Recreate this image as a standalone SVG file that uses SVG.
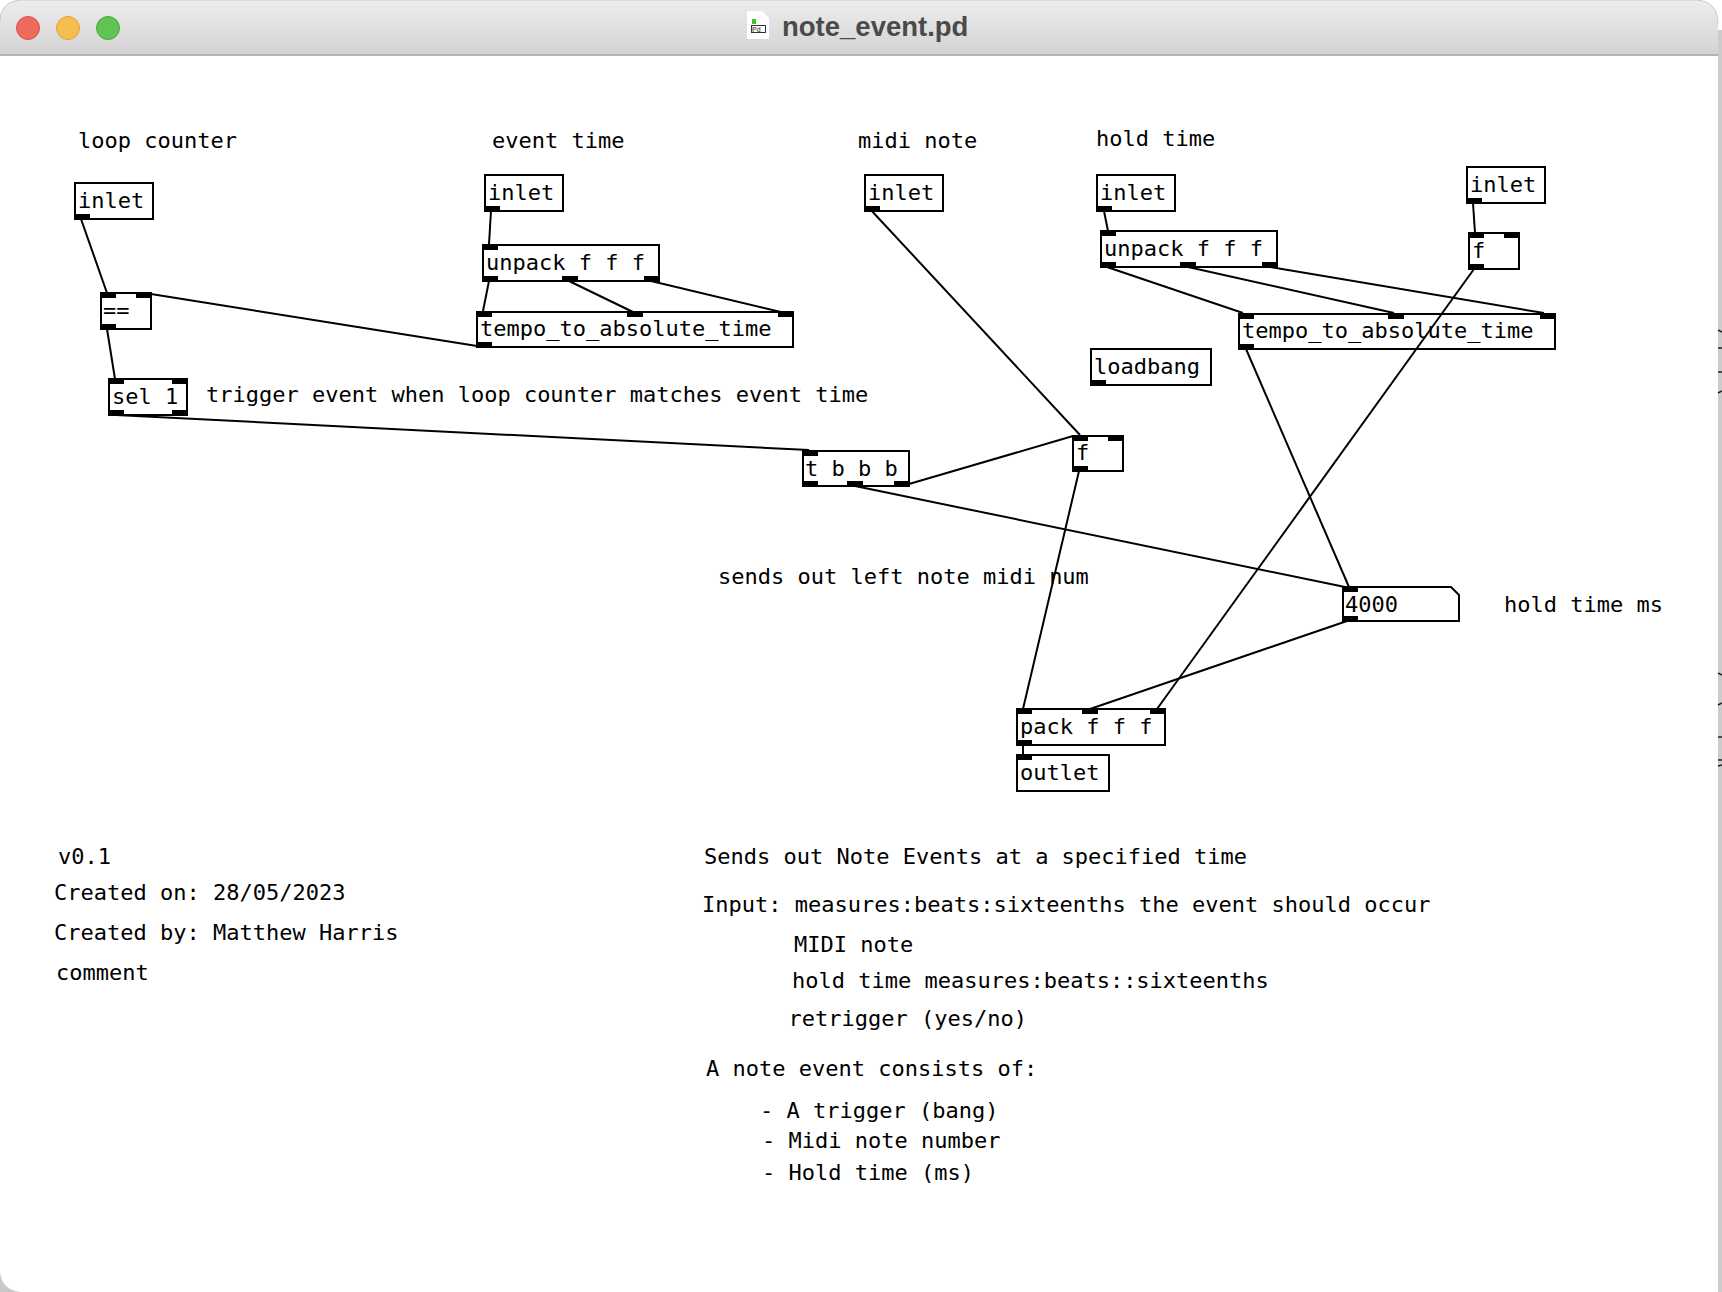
<svg xmlns="http://www.w3.org/2000/svg" width="1722" height="1292" viewBox="0 0 1722 1292">
<defs>
<linearGradient id="bar" x1="0" y1="0" x2="0" y2="1"><stop offset="0" stop-color="#ededed"/><stop offset="1" stop-color="#d3d3d3"/></linearGradient>
</defs>
<style>
text{font-family:"DejaVu Sans Mono","Liberation Mono",monospace;font-size:22px;fill:#000}
.box{fill:#fff;stroke:#000;stroke-width:2}
.p{fill:#000}
.w{stroke:#000;stroke-width:2;fill:none}
.title{font-family:"Liberation Sans",Arial,sans-serif;font-weight:bold;font-size:27.500px;fill:#4a4a4a}
.pd{font-family:"Liberation Sans",Arial,sans-serif;font-size:7px;fill:#222}
</style>
<rect width="1722" height="1292" fill="#fff"/>
<g id="window">
<rect x="1718" y="30" width="4" height="1262" fill="#cccccc"/>
<path d="M0 1292V1272Q2 1290 20 1292Z" fill="#c8c8c8"/>
<path d="M0 55V22Q0 1 22 0H1696Q1718 1 1718 24V55Z" fill="url(#bar)"/>
<path d="M0 22Q0 1 22 0H1696Q1718 1 1718 24" fill="none" stroke="#c9c9c9" stroke-width="1"/>
<rect x="0" y="54" width="1718" height="2" fill="#b4b4b4"/>
<circle cx="28" cy="28" r="11.500" fill="#ee6a5f" stroke="#d8534a"/>
<circle cx="68" cy="28" r="11.500" fill="#f6bd4f" stroke="#dfa23a"/>
<circle cx="108" cy="28" r="11.500" fill="#61c354" stroke="#4ba83f"/>
<path d="M747 11H762L769 18V39H747Z" fill="#fff"/>
<rect x="752" y="19" width="4" height="5" fill="#3fc02f"/>
<rect x="751.500" y="25.500" width="14" height="7" fill="none" stroke="#333"/>
<text class="pd" x="752" y="32">Pd</text>
<text class="title" x="782" y="36">note_event.pd</text>
<g stroke="#222" stroke-width="1.500" fill="none">
<path d="M1718 330L1722 332M1718 348H1722M1718 372H1722M1718 393L1722 391M1718 673L1722 675M1718 705L1722 703M1718 737H1722M1718 760H1722M1718 766L1722 765"/>
</g>
</g>
<g id="n-inlet1"><rect class="box" x="75" y="183" width="78" height="36"/><rect class="p" x="74" y="214" width="16" height="6"/><text x="78" y="208">inlet</text></g>
<g id="n-eq"><rect class="box" x="101" y="293" width="50" height="36"/><rect class="p" x="100" y="292" width="16" height="6"/><rect class="p" x="136" y="292" width="16" height="6"/><rect class="p" x="100" y="324" width="16" height="6"/><text x="103" y="318">==</text></g>
<g id="n-sel"><rect class="box" x="109" y="379" width="78" height="36"/><rect class="p" x="108" y="378" width="16" height="6"/><rect class="p" x="172" y="378" width="16" height="6"/><rect class="p" x="108" y="410" width="16" height="6"/><rect class="p" x="172" y="410" width="16" height="6"/><text x="112" y="403.500">sel 1</text></g>
<g id="n-inlet2"><rect class="box" x="485" y="175" width="78" height="36"/><rect class="p" x="484" y="206" width="16" height="6"/><text x="488" y="200">inlet</text></g>
<g id="n-unpack1"><rect class="box" x="483" y="245" width="176" height="36"/><rect class="p" x="482" y="244" width="16" height="6"/><rect class="p" x="482" y="276" width="16" height="6"/><rect class="p" x="562" y="276" width="16" height="6"/><rect class="p" x="644" y="276" width="16" height="6"/><text x="486" y="270">unpack f f f</text></g>
<g id="n-tempo1"><rect class="box" x="477" y="312" width="316" height="35"/><rect class="p" x="476" y="311" width="16" height="6"/><rect class="p" x="627" y="311" width="16" height="6"/><rect class="p" x="778" y="311" width="16" height="6"/><rect class="p" x="476" y="342" width="16" height="6"/><text x="480" y="336">tempo_to_absolute_time</text></g>
<g id="n-inlet3"><rect class="box" x="865" y="175" width="78" height="36"/><rect class="p" x="864" y="206" width="16" height="6"/><text x="868" y="200">inlet</text></g>
<g id="n-inlet4"><rect class="box" x="1097" y="175" width="78" height="36"/><rect class="p" x="1096" y="206" width="16" height="6"/><text x="1100" y="200">inlet</text></g>
<g id="n-unpack2"><rect class="box" x="1101" y="231" width="176" height="36"/><rect class="p" x="1100" y="230" width="16" height="6"/><rect class="p" x="1100" y="262" width="16" height="6"/><rect class="p" x="1180" y="262" width="16" height="6"/><rect class="p" x="1262" y="262" width="16" height="6"/><text x="1104" y="256">unpack f f f</text></g>
<g id="n-inlet5"><rect class="box" x="1467" y="167" width="78" height="36"/><rect class="p" x="1466" y="198" width="16" height="6"/><text x="1470" y="192">inlet</text></g>
<g id="n-f2"><rect class="box" x="1469" y="233" width="50" height="36"/><rect class="p" x="1468" y="232" width="16" height="6"/><rect class="p" x="1504" y="232" width="16" height="6"/><rect class="p" x="1468" y="264" width="16" height="6"/><text x="1472" y="258">f</text></g>
<g id="n-tempo2"><rect class="box" x="1239" y="314" width="316" height="35"/><rect class="p" x="1238" y="313" width="16" height="6"/><rect class="p" x="1388" y="313" width="16" height="6"/><rect class="p" x="1540" y="313" width="16" height="6"/><rect class="p" x="1238" y="344" width="16" height="6"/><text x="1242" y="338">tempo_to_absolute_time</text></g>
<g id="n-loadbang"><rect class="box" x="1091" y="349" width="120" height="36"/><rect class="p" x="1090" y="380" width="16" height="6"/><text x="1094" y="374">loadbang</text></g>
<g id="n-trigger"><rect class="box" x="803" y="451" width="106" height="35"/><rect class="p" x="802" y="450" width="16" height="6"/><rect class="p" x="802" y="481" width="16" height="6"/><rect class="p" x="847" y="481" width="16" height="6"/><rect class="p" x="894" y="481" width="16" height="6"/><text x="805" y="476">t b b b</text></g>
<g id="n-f1"><rect class="box" x="1073" y="436" width="50" height="35"/><rect class="p" x="1072" y="435" width="16" height="6"/><rect class="p" x="1108" y="435" width="16" height="6"/><rect class="p" x="1072" y="466" width="16" height="6"/><text x="1076" y="460">f</text></g>
<g id="n-num"><path class="box" d="M1343 587H1451L1459 595V621H1343Z"/><rect class="p" x="1342" y="586" width="16" height="6"/><rect class="p" x="1342" y="616" width="16" height="6"/><text x="1345" y="612">4000</text></g>
<g id="n-pack"><rect class="box" x="1017" y="709" width="148" height="36"/><rect class="p" x="1016" y="708" width="16" height="6"/><rect class="p" x="1082" y="708" width="16" height="6"/><rect class="p" x="1150" y="708" width="16" height="6"/><rect class="p" x="1016" y="740" width="16" height="6"/><text x="1020" y="734">pack f f f</text></g>
<g id="n-outlet"><rect class="box" x="1017" y="755" width="92" height="36"/><rect class="p" x="1016" y="754" width="16" height="6"/><text x="1020" y="780">outlet</text></g>
<g id="connectors" class="w">
<path d="M81 219L107 293"/>
<path d="M151 294L477 346"/>
<path d="M107 329L115 379"/>
<path d="M116 415L809 450"/>
<path d="M491 211L489 244"/>
<path d="M489 281L483 311"/>
<path d="M569 281L635 313"/>
<path d="M651 281L785 313"/>
<path d="M870 209L1080 435"/>
<path d="M909 484L1073 436"/>
<path d="M855 486L1345 587"/>
<path d="M1246 349L1349 587"/>
<path d="M1474 269L1157 709"/>
<path d="M1079 471L1023 709"/>
<path d="M1347 621L1090 709"/>
<path d="M1023 745V755"/>
<path d="M1104 211L1108 231"/>
<path d="M1107 267L1243 313"/>
<path d="M1188 267L1394 313"/>
<path d="M1270 267L1544 313"/>
<path d="M1473 203L1475 233"/>
</g>
<g id="comments">
<text x="78" y="148">loop counter</text>
<text x="492" y="148">event time</text>
<text x="858" y="148">midi note</text>
<text x="1096" y="146">hold time</text>
<text x="206" y="402">trigger event when loop counter matches event time</text>
<text x="718" y="584">sends out left note midi num</text>
<text x="1504" y="612">hold time ms</text>
<text x="58" y="864">v0.1</text>
<text x="54" y="900">Created on: 28/05/2023</text>
<text x="54" y="940">Created by: Matthew Harris</text>
<text x="56" y="980">comment</text>
<text x="704" y="864">Sends out Note Events at a specified time</text>
<text x="702" y="912">Input: measures:beats:sixteenths the event should occur</text>
<text x="794" y="952">MIDI note</text>
<text x="792" y="988">hold time measures:beats::sixteenths</text>
<text x="788.500" y="1026">retrigger (yes/no)</text>
<text x="706" y="1076">A note event consists of:</text>
<text x="760" y="1118">- A trigger (bang)</text>
<text x="762" y="1148">- Midi note number</text>
<text x="762" y="1180">- Hold time (ms)</text>
</g>
</svg>
